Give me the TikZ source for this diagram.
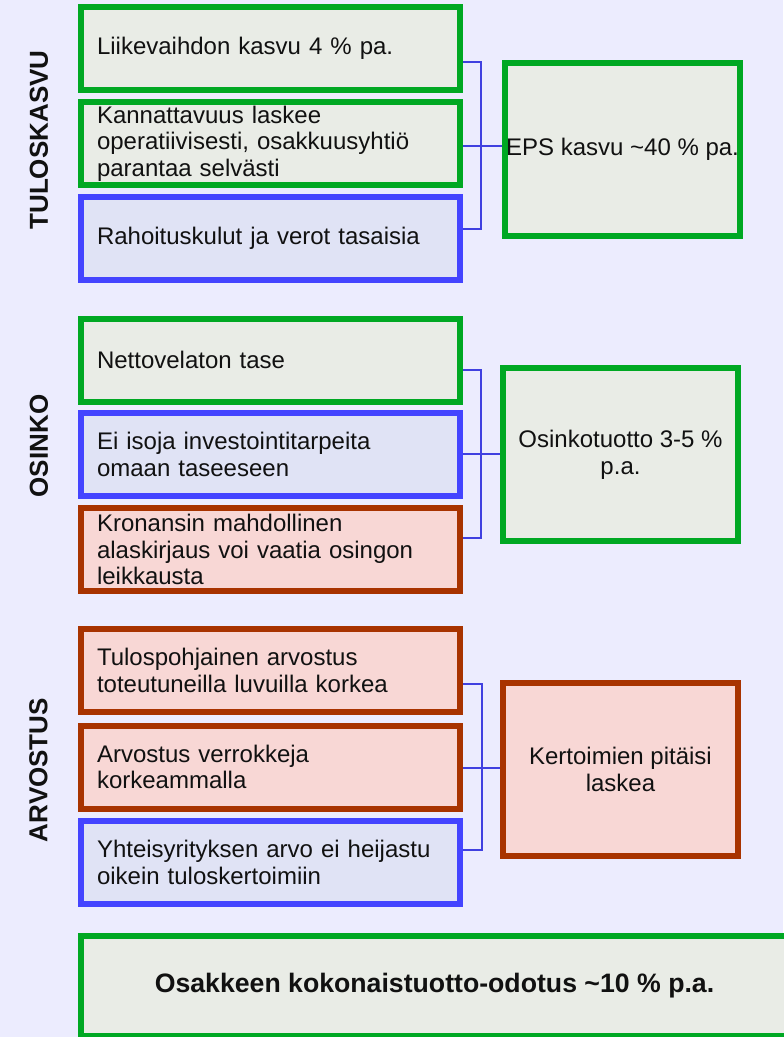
\documentclass[tikz,border=0pt]{standalone}
\usepackage{fontspec}
\setmainfont{Liberation Sans}
\definecolor{bg}{HTML}{ECECFE}
\definecolor{gstroke}{HTML}{00A823}
\definecolor{gfill}{HTML}{E9ECE6}
\definecolor{bstroke}{HTML}{4444FF}
\definecolor{bfill}{HTML}{E0E3F5}
\definecolor{rstroke}{HTML}{A83300}
\definecolor{rfill}{HTML}{F8D7D5}
\definecolor{connc}{HTML}{4040E0}
\definecolor{ink}{HTML}{111111}
\begin{document}
\begin{tikzpicture}[x=0.75pt,y=-0.75pt,
  box/.style={draw, line width=4.5pt, rectangle, inner sep=0pt, text=ink,
    font=\fontsize{18pt}{20pt}\selectfont},
  lbox/.style={box, minimum width=284.25pt, minimum height=62.25pt,
    text width=260.25pt, inner xsep=12pt, align=left},
  rbox/.style={box, minimum width=176.25pt, minimum height=129.75pt, align=center},
  gcol/.style={draw=gstroke, fill=gfill},
  bcol/.style={draw=bstroke, fill=bfill},
  rcol/.style={draw=rstroke, fill=rfill},
  conn/.style={draw=connc, line width=2pt},
  lab/.style={rotate=90, text=ink, font=\bfseries\fontsize{19.5pt}{20pt}\selectfont}
]
\fill[bg] (0,0) rectangle (783,1037);
\useasboundingbox (0,0) rectangle (783,1037);

% section labels
\node[lab] (l1) at (39,140) {TULOSKASVU};
\node[lab] (l2) at (39,446) {OSINKO};
\node[lab] (l3) at (38.5,770) {ARVOSTUS};

% section 1
\node[lbox,gcol] (b1) at (270.5,48.5) {Liikevaihdon kasvu 4 \% pa.};
\node[lbox,gcol] (b2) at (270.5,143.5) {Kannattavuus laskee\\operatiivisesti, osakkuusyhtiö\\parantaa selvästi};
\node[lbox,bcol] (b3) at (270.5,238.5) {Rahoituskulut ja verot tasaisia};
\node[rbox,gcol] (r1) at (622.5,149.5) {EPS kasvu \textasciitilde40 \% pa.};

% section 2
\node[lbox,gcol] (b4) at (270.5,360) {Nettovelaton tase};
\node[lbox,bcol] (b5) at (270.5,454.5) {Ei isoja investointitarpeita\\omaan taseeseen};
\node[lbox,rcol] (b6) at (270.5,549.5) {Kronansin mahdollinen\\alaskirjaus voi vaatia osingon\\leikkausta};
\node[rbox,gcol] (r2) at (620.5,454.5) {Osinkotuotto 3-5 \%\\p.a.};

% section 3
\node[lbox,rcol] (b7) at (270.5,670.5) {Tulospohjainen arvostus\\toteutuneilla luvuilla korkea};
\node[lbox,rcol] (b8) at (270.5,767) {Arvostus verrokkeja\\korkeammalla};
\node[lbox,bcol] (b9) at (270.5,862.5) {Yhteisyrityksen arvo ei heijastu\\oikein tuloskertoimiin};
\node[rbox,rcol] (r3) at (620.5,769.5) {Kertoimien pitäisi\\laskea};

% bottom
\node[box,gcol,minimum width=530.25pt,minimum height=75pt,
  font=\bfseries\fontsize{20pt}{22pt}\selectfont] (tot) at (434.5,986)
  {Osakkeen kokonaistuotto-odotus \textasciitilde10 \% p.a.};

% connectors
\coordinate (j1) at (481,146);
\coordinate (j2) at (481,454);
\coordinate (j3) at (482,768);

\draw[conn] ([yshift=-10.125pt]b1.east) -| (j1) |- ([yshift=7.125pt]b3.east);
\draw[conn] ([yshift=-1.875pt]b2.east) -- ([yshift=-1.875pt]b2.east -| r1.west);

\draw[conn] ([yshift=-7.5pt]b4.east) -| (j2) |- ([yshift=8.625pt]b6.east);
\draw[conn] ([yshift=0.375pt]b5.east) -- ([yshift=0.375pt]b5.east -| r2.west);

\draw[conn] ([yshift=-10.125pt]b7.east) -| (j3) |- ([yshift=9.375pt]b9.east);
\draw[conn] ([yshift=-0.75pt]b8.east) -- ([yshift=-0.75pt]b8.east -| r3.west);
\end{tikzpicture}
\end{document}
